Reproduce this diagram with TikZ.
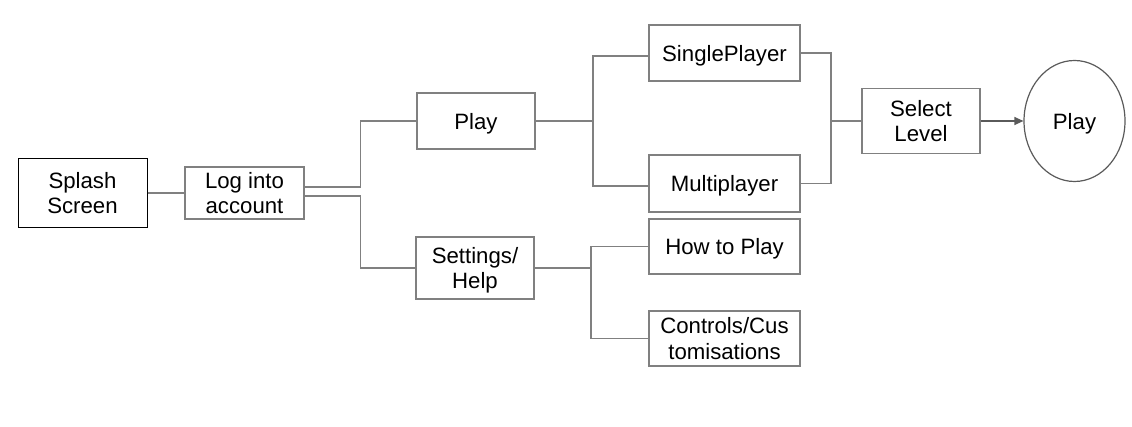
\documentclass[tikz,border=0pt]{standalone}
\usepackage{fontspec}
\setmainfont{Liberation Sans}
\usetikzlibrary{arrows.meta,shapes.geometric}
\definecolor{linegray}{HTML}{808080}
\definecolor{circgray}{HTML}{5A5A5A}
\begin{document}
\begin{tikzpicture}[x=1pt,y=-1pt,
  box/.style={draw=linegray,line width=1.2pt,rectangle,inner sep=0pt,align=center,
    font=\fontsize{22.2}{25.5}\selectfont,text=black,text depth=0pt},
  conn/.style={draw=linegray,line width=1.2pt}]
\useasboundingbox (0,0) rectangle (1132,427);
\node[box,draw=black,line width=1pt,minimum width=129pt,minimum height=69pt] (splash) at (82.5,193) {Splash\\Screen};
\node[box,minimum width=119pt,minimum height=52pt] (log) at (244.5,193) {Log into\\account};
\node[box,minimum width=118pt,minimum height=56pt] (play) at (476,121) {Play};
\node[box,minimum width=118pt,minimum height=62pt] (set) at (475,268) {Settings/\\Help};
\node[box,minimum width=151pt,minimum height=56pt] (single) at (724.5,53) {SinglePlayer};
\node[box,minimum width=151pt,minimum height=57pt] (multi) at (724.5,183.5) {Multiplayer};
\node[box,minimum width=151pt,minimum height=55pt] (how) at (724.5,246.5) {How to Play};
\node[box,minimum width=151pt,minimum height=55pt] (ctrl) at (724.5,338.5) {Controls/Cus\\tomisations};
\node[box,minimum width=118pt,minimum height=65pt] (sel) at (921,121) {Select\\Level};
\node[box,draw=circgray,ellipse,minimum width=101pt,minimum height=121pt] (pc) at (1074.5,121) {Play};
\coordinate (pj) at (593,121);
\coordinate (mj) at (831,121);
\coordinate (sj) at (591,268);
\draw[conn] (splash.east) -- (log.west);
\draw[conn] ([yshift=6pt]log.east) -- ++(56,0) |- (play.west);
\draw[conn] ([yshift=-3pt]log.east) -- ++(56,0) |- (set.west);
\draw[conn] (play.east) -- (pj);
\draw[conn] (pj) |- ([yshift=-3pt]single.west);
\draw[conn] (pj) |- ([yshift=-2.5pt]multi.west);
\draw[conn] (single.east) -| (mj);
\draw[conn] (multi.east) -| (mj);
\draw[conn] (mj) -- (sel.west);
\draw[conn] (set.east) -- (sj);
\draw[conn] (sj) |- (how.west);
\draw[conn] (sj) |- (ctrl.west);
\draw[conn,-{Stealth[length=9pt,width=8pt,inset=0pt]},draw=circgray] (sel.east) -- (pc.west);
\end{tikzpicture}
\end{document}
